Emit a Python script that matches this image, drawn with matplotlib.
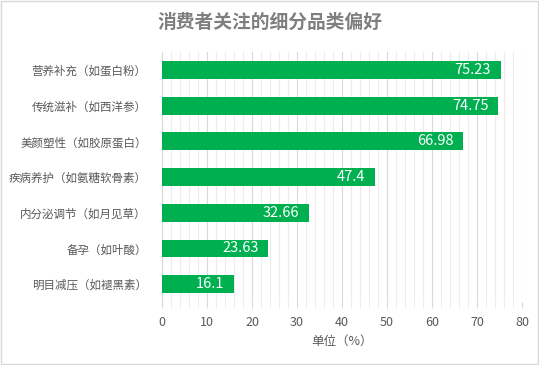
import matplotlib
matplotlib.use("Agg")
import matplotlib.pyplot as plt
from matplotlib.ticker import MultipleLocator
from matplotlib.patches import Rectangle

plt.rcParams['font.family'] = ['Noto Sans CJK SC', 'DejaVu Sans']

categories = ["营养补充（如蛋白粉）", "传统滋补（如西洋参）", "美颜塑性（如胶原蛋白）",
              "疾病养护（如氨糖软骨素）", "内分泌调节（如月见草）", "备孕（如叶酸）", "明目减压（如褪黑素）"]
values = [75.23, 74.75, 66.98, 47.4, 32.66, 23.63, 16.1]
value_labels = ["75.23", "74.75", "66.98", "47.4", "32.66", "23.63", "16.1"]
title = "消费者关注的细分品类偏好"
xlabel = "单位（%）"

fig = plt.figure(figsize=(5.39, 3.65), dpi=100)
ax = fig.add_axes([162/539, 1-302/365, 360/539, 250/365])

green = "#00b050"
text_gray = "#595959"

y = list(range(len(categories)))
ax.barh(y, values, height=0.5, color=green, zorder=3)
for yi, v, lab in zip(y, values, value_labels):
    ax.text(v - 2.2, yi, lab, ha="right", va="center", color="white", fontsize=10.5, zorder=4)

ax.set_ylim(len(categories) - 0.5, -0.5)
ax.set_xlim(0, 80)
ax.set_yticks(y)
ax.set_yticklabels(categories, fontsize=8.3, color=text_gray)
ax.xaxis.set_major_locator(MultipleLocator(10))
ax.xaxis.set_minor_locator(MultipleLocator(2))
ax.tick_params(axis="x", which="major", length=4, color="#d9d9d9", labelsize=9, labelcolor=text_gray, pad=6)
ax.tick_params(axis="x", which="minor", length=4, color="#ececec")
ax.tick_params(axis="y", length=0, pad=11)
ax.grid(axis="x", which="major", color="#d9d9d9", linewidth=0.8, zorder=0)
ax.grid(axis="x", which="minor", color="#ececec", linewidth=0.8, zorder=0)
for s in ["top", "right", "bottom"]:
    ax.spines[s].set_visible(False)
ax.spines["left"].set_color("#d9d9d9")
ax.set_xlabel(xlabel, fontsize=9, color=text_gray, labelpad=4)

fig.text(0.5, 1 - 22/365, title, ha="center", va="center", fontsize=13.5, fontweight="bold", color="#7f7f7f")
fig.patches.append(Rectangle((0.001, 0.002), 0.997, 0.995, transform=fig.transFigure,
                             fill=False, edgecolor="#d9d9d9", linewidth=1))
fig.savefig("out.png", dpi=100)
